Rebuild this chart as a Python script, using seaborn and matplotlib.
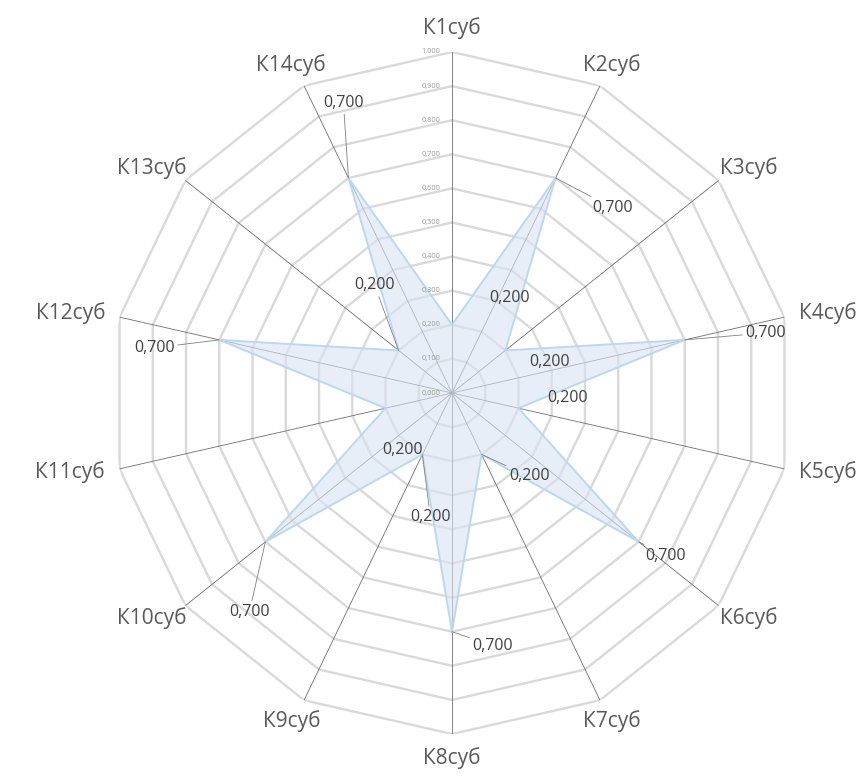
import numpy as np
import matplotlib
matplotlib.use("Agg")
import matplotlib.pyplot as plt
import seaborn as sns

# data
categories = ["К1суб", "К2суб", "К3суб", "К4суб", "К5суб", "К6суб", "К7суб",
              "К8суб", "К9суб", "К10суб", "К11суб", "К12суб", "К13суб", "К14суб"]
values = [0.2, 0.7, 0.2, 0.7, 0.2, 0.7, 0.2, 0.7, 0.2, 0.7, 0.2, 0.7, 0.2, 0.7]
grid_levels = [0.0, 0.1, 0.2, 0.3, 0.4, 0.5, 0.6, 0.7, 0.8, 0.9, 1.0]

# label placement (pixels from the point), and which ones get a leader line
label_offsets = [(58, 27), (57, -30), (44, -12), (81, 7), (49, 10), (27, -14), (48, -22),
                 (41, -14), (8, -63), (-16, -70), (17, -42), (-65, -8), (-24, 65), (-5, 75)]
leader = [False, True, False, True, False, True, True,
          True, True, True, False, True, True, True]

sns.set_theme(style="white")
plt.rcParams["font.family"] = ["Open Sans", "DejaVu Sans"]

W, H = 859, 778
cx, cy, R = 452, 393, 341
fig = plt.figure(figsize=(W / 100, H / 100), dpi=100)
ax = fig.add_axes([(cx - R) / W, (H - cy - R) / H, 2 * R / W, 2 * R / H], projection="polar")
ax.set_theta_zero_location("N")
ax.set_theta_direction(-1)
ax.set_ylim(0, 1)
ax.set_xticks([])
ax.set_yticks([])
ax.grid(False)
ax.spines["polar"].set_visible(False)
ax.patch.set_alpha(0)

n = len(categories)
theta = np.linspace(0, 2 * np.pi, n, endpoint=False)
theta_c = np.append(theta, 2 * np.pi)

# polygon grid
for lvl in grid_levels[1:]:
    ax.plot(theta_c, [lvl] * (n + 1), color="#d9d9d9", lw=1.7, zorder=1)
for t in theta:
    ax.plot([t, t], [0, 1], color="#6e6e6e", lw=0.6, zorder=2)

# series
vals_c = values + values[:1]
ax.fill(theta_c, vals_c, color="#dae3f3", alpha=0.6, zorder=3, lw=0)
sns.lineplot(x=theta_c, y=vals_c, sort=False, ax=ax, color="#bdd7ee", lw=1.4, zorder=4)
ax.set_xlabel("")
ax.set_ylabel("")

# radial tick labels
for lvl in grid_levels:
    ax.annotate(f"{lvl:.3f}".replace(".", ","), xy=(0, lvl), xytext=(-12, 0),
                textcoords="offset pixels", ha="right", va="center",
                fontsize=5.3, color="#9a9a9a", zorder=7)

# data labels
for t, v, off, ld in zip(theta, values, label_offsets, leader):
    txt = f"{v:.3f}".replace(".", ",")
    kw = {}
    if ld:
        kw["arrowprops"] = dict(arrowstyle="-", color="#7f7f7f", lw=0.6,
                                shrinkA=0, shrinkB=0)
    ax.annotate(txt, xy=(t, v), xytext=off, textcoords="offset pixels",
                ha="center", va="center", fontsize=11.5, color="#404040",
                zorder=6, **kw)

# category labels
for t, lab in zip(theta, categories):
    s, c = np.sin(t), np.cos(t)
    w = 12.5 * len(lab)
    h = 20
    d = 14
    dx = s * (d + w / 2 * abs(s))
    dy = c * (d + h / 2 * abs(c))
    ax.annotate(lab, xy=(t, 1.0), xytext=(dx, dy), textcoords="offset pixels",
                ha="center", va="center", fontsize=15, color="#595959",
                annotation_clip=False)

fig.savefig("out.png", dpi=100, facecolor="white")
